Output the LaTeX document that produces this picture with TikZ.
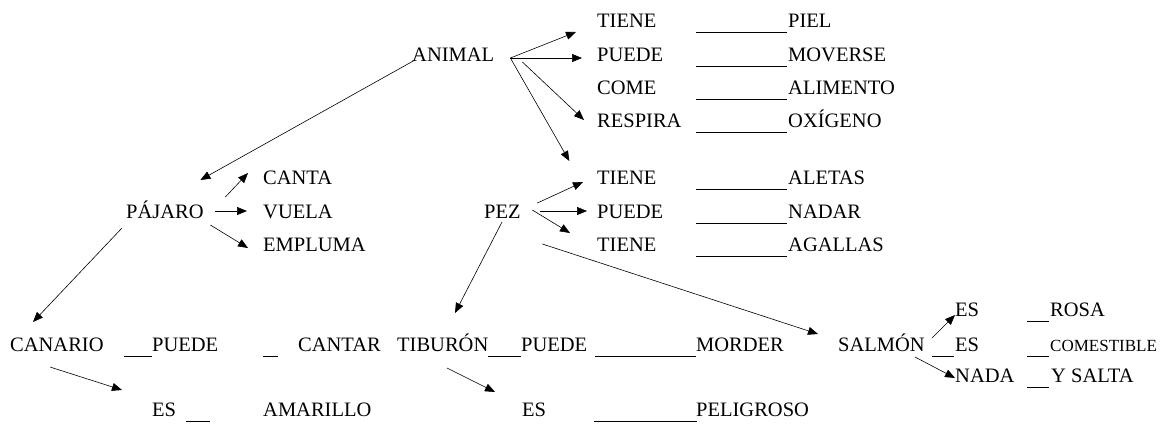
\documentclass[tikz,border=0pt]{standalone}
\usepackage{fontspec}
\setmainfont{Liberation Serif}
\usetikzlibrary{arrows.meta}
\tikzset{
  word/.style={anchor=base west, inner sep=0pt, font=\fontsize{20.5}{24}\selectfont},
  smallword/.style={word, font=\fontsize{17}{20}\selectfont},
  arr/.style={-{Triangle[length=10pt,width=8pt]}, line width=0.6pt},
  blank/.style={line width=1.8pt}
}
\begin{document}
\begin{tikzpicture}[x=1pt,y=-1pt]
            \useasboundingbox (0,0) rectangle (1164,424);
            %animal
            \node[word] (animal) at (412,61) {ANIMAL};
            \node[word] (t1) at (597,27) {TIENE};
            \node[word] (t2) at (597,61) {PUEDE};
            \node[word] (t3) at (597,94) {COME};
            \node[word] (t4) at (597,127) {RESPIRA};
            \node[word] (piel) at (788,27) {PIEL};
            \node[word] (moverse) at (788,61) {MOVERSE};
            \node[word] (alimento) at (788,94) {ALIMENTO};
            \node[word] (oxigeno) at (788,127) {OXÍGENO};
            %pajaro
            \node[word] (pajaro) at (126,218) {PÁJARO};
            \node[word] (canta) at (263,184) {CANTA};
            \node[word] (vuela) at (263,218) {VUELA};
            \node[word] (empluma) at (263,251) {EMPLUMA};
            %pez
            \node[word] (pez) at (484,218) {PEZ};
            \node[word] (t5) at (597,184) {TIENE};
            \node[word] (t6) at (597,218) {PUEDE};
            \node[word] (t7) at (597,251) {TIENE};
            \node[word] (aletas) at (788,184) {ALETAS};
            \node[word] (nadar) at (788,218) {NADAR};
            \node[word] (agallas) at (788,251) {AGALLAS};
            %canario
            \node[word] (canario) at (10,351) {CANARIO};
            \node[word] (puedec) at (152,351) {PUEDE};
            \node[word] (cantar) at (298,351) {CANTAR};
            \node[word] (esc) at (152,416) {ES};
            \node[word] (amarillo) at (263,416) {AMARILLO};
            %tiburon
            \node[word] (tiburon) at (397,351) {TIBURÓN};
            \node[word] (puedet) at (521,351) {PUEDE};
            \node[word] (morder) at (696,351) {MORDER};
            \node[word] (est) at (522,416) {ES};
            \node[word] (peligroso) at (696,416) {PELIGROSO};
            %salmon
            \node[word] (salmon) at (838,351) {SALMÓN};
            \node[word] (ess1) at (955,316) {ES};
            \node[word] (ess2) at (955,351) {ES};
            \node[word] (nada) at (955,382) {NADA};
            \node[word] (rosa) at (1050,316) {ROSA};
            \node[smallword] (comestible) at (1050,351) {COMESTIBLE};
            \node[word] (ysalta) at (1051,382) {Y SALTA};
            %righe
            \foreach \w in {piel,moverse,alimento,oxigeno,aletas,nadar,agallas}
              \draw[blank] ([shift={(-92,5.5)}]\w.base west) -- ([shift={(-1,5.5)}]\w.base west);
            \draw[blank] ([shift={(-28,5.5)}]puedec.base west) -- ([shift={(0,5.5)}]puedec.base west);
            \draw[blank] ([shift={(-35,5.5)}]cantar.base west) -- ([shift={(-20,5.5)}]cantar.base west);
            \draw[blank] ([shift={(34,5.5)}]esc.base west) -- ([shift={(58,5.5)}]esc.base west);
            \draw[blank] ([shift={(-33,5.5)}]puedet.base west) -- ([shift={(0,5.5)}]puedet.base west);
            \draw[blank] ([shift={(-101,5.5)}]morder.base west) -- ([shift={(0,5.5)}]morder.base west);
            \draw[blank] ([shift={(-102,5.5)}]peligroso.base west) -- ([shift={(1,5.5)}]peligroso.base west);
            \draw[blank] ([shift={(-23,5.5)}]ess2.base west) -- ([shift={(-1,5.5)}]ess2.base west);
            \draw[blank] ([shift={(-23,5.5)}]rosa.base west) -- ([shift={(-1,5.5)}]rosa.base west);
            \draw[blank] ([shift={(-23,5.5)}]comestible.base west) -- ([shift={(-1,5.5)}]comestible.base west);
            \draw[blank] ([shift={(-24,5.5)}]ysalta.base west) -- ([shift={(-2,5.5)}]ysalta.base west);
            %frecce animal
            \draw[arr] ([shift={(16,-3)}]animal.base east) -- ([shift={(-21,5)}]t1.base west);
            \draw[arr] ([shift={(16,-3)}]animal.base east) -- ([shift={(-15,-3)}]t2.base west);
            \draw[arr] ([shift={(28,1)}]animal.base east) -- ([shift={(-13,-7)}]t4.base west);
            \draw[arr] ([shift={(16,-3)}]animal.base east) -- ([shift={(48.5,-57)}]pez.base east);
            \draw[arr] ([shift={(3,-1)}]animal.base west) -- ([shift={(-3.5,-38)}]pajaro.base east);
            %frecce pajaro
            \draw[arr] ([shift={(21.5,-21)}]pajaro.base east) -- ([shift={(-15,-11)}]canta.base west);
            \draw[arr] ([shift={(11.5,-7)}]pajaro.base east) -- ([shift={(-16,-7)}]vuela.base west);
            \draw[arr] ([shift={(6.5,7)}]pajaro.base east) -- ([shift={(-15,-3)}]empluma.base west);
            \draw[arr] ([shift={(-4,10)}]pajaro.base west) -- ([shift={(23,-29)}]canario.base west);
            \draw[arr] ([shift={(40,16)}]canario.base west) -- ([shift={(-30,-26)}]esc.base west);
            %frecce pez
            \draw[arr] ([shift={(16.5,-15)}]pez.base east) -- ([shift={(-14,-2)}]t5.base west);
            \draw[arr] ([shift={(19.5,-7)}]pez.base east) -- ([shift={(-10,-7)}]t6.base west);
            \draw[arr] ([shift={(11.5,-8)}]pez.base east) -- ([shift={(-27,-18)}]t7.base west);
            \draw[arr] ([shift={(18,4)}]pez.base west) -- ([shift={(58,-38)}]tiburon.base west);
            \draw[arr] ([shift={(21.5,26)}]pez.base east) -- ([shift={(-20,-17)}]salmon.base west);
            \draw[arr] ([shift={(50,17)}]tiburon.base west) -- ([shift={(-27,-24)}]est.base west);
            %frecce salmon
            \draw[arr] ([shift={(94,-13)}]salmon.base west) -- ([shift={(0,-1)}]ess1.base west);
            \draw[arr] ([shift={(77,6)}]salmon.base west) -- ([shift={(0,-4)}]nada.base west);
        \end{tikzpicture}
\end{document}
